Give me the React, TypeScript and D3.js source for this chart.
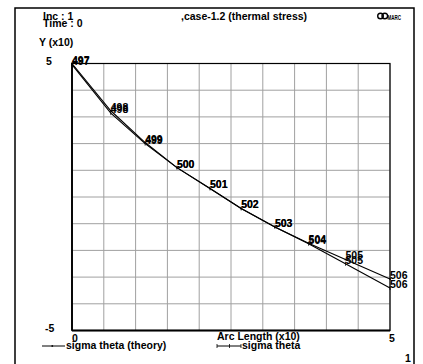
import React from "react";
import * as d3 from "d3";

// Data (arc length in real units; axis labels are x10)
const nodeIds = ["497", "498", "499", "500", "501", "502", "503", "504", "505", "506"];
const arcLength = [0, 6.1, 11.5, 16.5, 21.7, 26.6, 31.9, 37.2, 43.0, 50];
const sigmaTheory = [50, 32.3, 20.4, 11.0, 3.2, -4.3, -11.2, -17.3, -23.4, -30.7];
const sigmaFE = [49.6, 31.4, 20.0, 11.0, 3.2, -4.3, -11.2, -17.5, -25.0, -34.1];
const xTickLabels = ["0", "5"];
const yTickLabels = ["5", "-5"];

const W = 423;
const H = 364;
const FONT = "'Liberation Sans', Arial, Helvetica, sans-serif";

export default function App() {
  const x = d3.scaleLinear().domain([0, 50]).range([72, 390]);
  const y = d3.scaleLinear().domain([-50, 50]).range([330.5, 63.5]);
  const line = d3
    .line<number>()
    .x((_, i) => x(arcLength[i]))
    .y((d) => y(d));
  const gridX = d3.range(0, 51, 5);
  const gridY = d3.range(-50, 51, 10);

  const txt = (s: string, tx: number, ty: number, size = 10.5, extra: any = {}) => (
    <text x={tx} y={ty} fontFamily={FONT} fontWeight="bold" fontSize={size} fill="#000" {...extra}>
      {s}
    </text>
  );

  return (
    <svg
      width={W}
      height={H}
      viewBox={`0 0 ${W} ${H}`}
      style={{ position: "absolute", left: 0, top: 0, background: "#fff" }}
    >
      <rect x={0} y={0} width={W} height={H} fill="#fff" />
      {/* outer frame */}
      <path d={`M15,${H + 5} L15,8 L414,8 L414,${H + 5}`} fill="none" stroke="#000" strokeWidth={1.5} />

      {/* grid */}
      {gridX.map((g) => (
        <line key={"gx" + g} x1={x(g)} x2={x(g)} y1={y(-50)} y2={y(50)} stroke="#a0a0a0" strokeWidth={1} />
      ))}
      {gridY.map((g) => (
        <line key={"gy" + g} x1={x(0)} x2={x(50)} y1={y(g)} y2={y(g)} stroke="#a0a0a0" strokeWidth={1} />
      ))}
      <rect x={x(0)} y={y(50)} width={x(50) - x(0)} height={y(-50) - y(50)} fill="none" stroke="#000" strokeWidth={1.2} />
      <line x1={x(0)} x2={x(0)} y1={y(50)} y2={y(-50)} stroke="#000" strokeWidth={1.8} />
      <line x1={x(0)} x2={x(50)} y1={y(-50)} y2={y(-50)} stroke="#000" strokeWidth={1.8} />

      {/* curves */}
      <path d={line(sigmaTheory) || ""} fill="none" stroke="#000" strokeWidth={1.1} />
      <path d={line(sigmaFE) || ""} fill="none" stroke="#000" strokeWidth={1.1} />
      {sigmaTheory.map((v, i) => (
        <rect key={"mt" + i} x={x(arcLength[i]) - 0.8} y={y(v) - 0.8} width={1.6} height={1.6} fill="#000" />
      ))}
      {sigmaFE.map((v, i) => (
        <line key={"mf" + i} x1={x(arcLength[i])} x2={x(arcLength[i])} y1={y(v) - 2} y2={y(v) + 2} stroke="#000" strokeWidth={0.8} />
      ))}
      {sigmaTheory.map((v, i) => (
        <g key={"lt" + i}>{txt(nodeIds[i], x(arcLength[i]), y(v), 10.5)}</g>
      ))}
      {sigmaFE.map((v, i) => (
        <g key={"lf" + i}>{txt(nodeIds[i], x(arcLength[i]), y(v), 10.5)}</g>
      ))}

      {/* header texts */}
      {txt("Inc  : 1", 43, 19.5)}
      {txt("Time : 0", 43, 27)}
      {txt(",case-1.2 (thermal stress)", 181, 20)}
      {/* MARC logo */}
      <circle cx={380.5} cy={16} r={2.8} fill="none" stroke="#000" strokeWidth={1.4} />
      <circle cx={384.8} cy={16} r={2.8} fill="none" stroke="#000" strokeWidth={1.4} />
      {txt("MARC", 387.5, 19.5, 8, { textLength: 13.5, lengthAdjust: "spacingAndGlyphs" })}

      {/* axis labels */}
      {txt("Y  (x10)", 39, 46)}
      {txt(yTickLabels[0], 46, 65)}
      {txt(yTickLabels[1], 45, 332)}
      {txt(xTickLabels[0], x(0), 342)}
      {txt(xTickLabels[1], x(50) - 1, 342)}
      {txt("Arc Length (x10)", 217, 340)}

      {/* legend */}
      <line x1={42} x2={65} y1={346} y2={346} stroke="#000" strokeWidth={1} />
      <rect x={51.5} y={345.2} width={1.6} height={1.6} fill="#000" />
      {txt("sigma theta (theory)", 66, 349)}
      <line x1={217} x2={241} y1={346} y2={346} stroke="#000" strokeWidth={1} />
      {[217, 229.5, 241].map((t) => (
        <line key={"lg" + t} x1={t} x2={t} y1={344} y2={348} stroke="#000" strokeWidth={0.8} />
      ))}
      {txt("sigma theta", 242, 349)}

      {txt("1", 405, 362)}
    </svg>
  );
}
